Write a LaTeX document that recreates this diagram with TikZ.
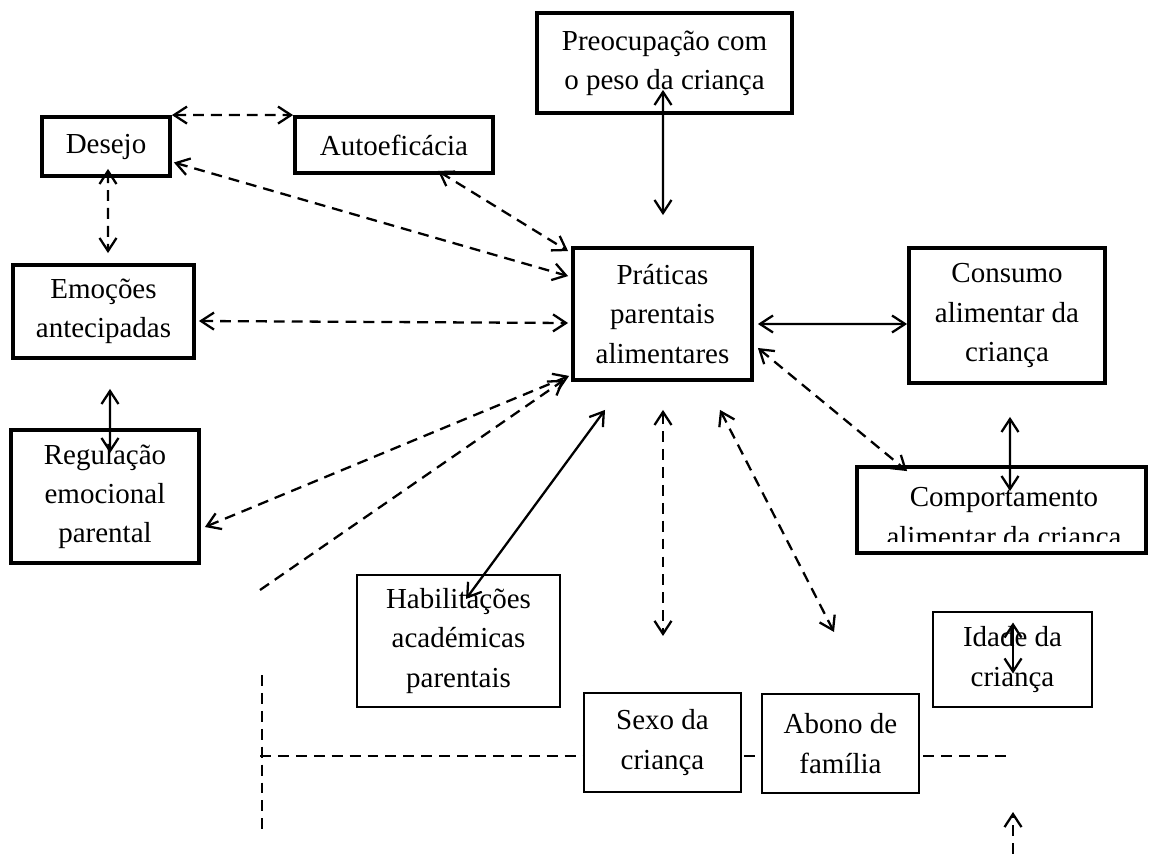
\documentclass[tikz,border=0pt]{standalone}
\usepackage{fontspec}
\setmainfont{Liberation Serif}
\usepackage{tikz}
\usetikzlibrary{arrows.meta,calc}

\begin{document}
\begin{tikzpicture}[x=0.02cm,y=-0.02cm,
  box/.style={rectangle,draw=black,fill=white,line width=2.2pt,inner sep=0pt,align=center,
              font=\fontsize{16.5}{22.3}\selectfont},
  tbox/.style={box,line width=1.2pt},
  txt/.style={inner sep=0pt,align=center,font=\fontsize{16.5}{22.3}\selectfont},
  sarr/.style={{Straight Barb[length=2.6mm,width=3.4mm]}-{Straight Barb[length=2.6mm,width=3.4mm]},line width=1.3pt},
  darr/.style={sarr,dash pattern=on 6.2pt off 4pt},
  dline/.style={line width=1.3pt,dash pattern=on 6.2pt off 4pt},
  dhead/.style={dline,-{Straight Barb[length=2.6mm,width=3.4mm]}}]
\useasboundingbox (0,0) rectangle (1149,854);
\coordinate (h1) at (260,756);
\coordinate (h2) at (1011,756);
\coordinate (v1) at (262,675);
\coordinate (v2) at (262,833);
\coordinate (b1) at (1013,854);
\coordinate (b2) at (1013,812);
\coordinate (free1) at (260,590);
\draw[dline] (h1)--(h2);
\draw[dline] (v1)--(v2);
\draw[dhead] (b1)--(b2);
\node[box,minimum width=5.1cm,minimum height=2.0cm] (pre) at (664.5,63) {Preocupação com\\o peso da criança};
\node[box,minimum width=2.56cm,minimum height=1.18cm] (des) at (106,146.5) {Desejo};
\node[box,minimum width=3.96cm,minimum height=1.12cm] (auto) at (394,145) {Autoeficácia};
\node[box,minimum width=3.62cm,minimum height=1.86cm] (emo) at (103.5,311.5) {Emoções\\antecipadas};
\node[box,minimum width=3.76cm,minimum height=2.66cm] (reg) at (105,496.5) {Regulação\\emocional\\parental};
\node[box,minimum width=3.58cm,minimum height=2.64cm] (prat) at (662.5,314) {Práticas\\parentais\\alimentares};
\node[box,minimum width=3.92cm,minimum height=2.7cm] (cons) at (1007,315.5) {Consumo\\alimentar da\\criança};
\node[box,minimum width=5.78cm,minimum height=1.72cm] (comp) at (1001.5,510) {};
\begin{scope}
\clip (857,467) rectangle (1146,541);
\node[txt] (comptxt) at (1004,520) {Comportamento\\alimentar da criança};
\end{scope}
\node[tbox,minimum width=4.06cm,minimum height=2.64cm] (hab) at (458.5,641) {Habilitações\\académicas\\parentais};
\node[tbox,minimum width=3.14cm,minimum height=1.98cm] (sexo) at (662.5,742.5) {Sexo da\\criança};
\node[tbox,minimum width=3.14cm,minimum height=1.98cm] (abono) at (840.5,743.5) {Abono de\\família};
\node[tbox,minimum width=3.18cm,minimum height=1.9cm] (idade) at (1012.5,659.5) {Idade da\\criança};
\draw[darr] (des.north east)--(auto.north west);
\draw[darr] ($(des.east)+(2,16)$)--($(prat.north west)+(-3,30)$);
\draw[darr] ($(auto.south east)+(-57,-4)$)--($(prat.north west)+(-3,5)$);
\draw[darr] ($(des.south)+(2,-9)$)--($(emo.north)+(4.5,-10)$);
\draw[darr] ($(emo.east)+(3,9.5)$)--($(prat.west)+(-3,9)$);
\draw[sarr] ($(emo.south)+(6.5,29)$)--($(reg.north)+(5,25)$);
\draw[darr] ($(prat.south west)+(-2,-6)$)--($(reg.east)+(4,30.5)$);
\draw[dhead] (free1)--($(prat.south west)+(-7,-2)$);
\draw[sarr] ($(prat.south)+(-57.5,28)$)--($(hab.north)+(7.5,25)$);
\draw[darr] ($(prat.south)+(0.5,28)$)--($(sexo.north)+(0.5,-56)$);
\draw[darr] ($(prat.south)+(57.5,28)$)--($(abono.north)+(-6.5,-61)$);
\draw[sarr] ($(prat.east)+(4,10)$)--($(cons.west)+(0,8.5)$);
\draw[darr] ($(prat.east)+(4,34)$)--($(comp.north west)+(52,6)$);
\draw[sarr] ($(cons.south)+(3,32)$)--($(comp.north)+(8.5,26)$);
\draw[sarr] ($(pre.south)+(-1.5,-25)$)--($(prat.north)+(0.5,-31)$);
\draw[sarr] ($(idade.center)+(0.5,-37)$)--($(idade.center)+(0.5,14)$);
\end{tikzpicture}
\end{document}
